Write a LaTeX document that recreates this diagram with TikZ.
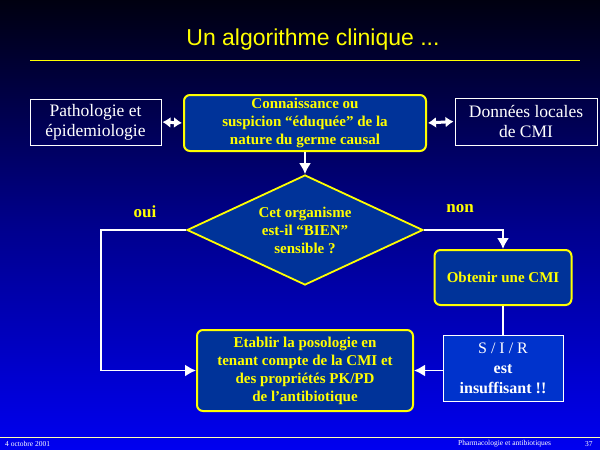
\documentclass[tikz,border=0pt]{standalone}
\usepackage{fontspec}
\setmainfont{Liberation Serif}
\newfontfamily\arialfont{Liberation Sans}
\usetikzlibrary{shapes.geometric,arrows.meta}
\definecolor{boxblue}{RGB}{0,51,153}
\definecolor{sirblue}{RGB}{0,51,204}
\definecolor{bgtop}{RGB}{0,0,16}
\definecolor{bgmid}{RGB}{0,0,140}
\definecolor{bgbot}{RGB}{0,0,240}
\definecolor{ylw}{RGB}{255,255,0}
\definecolor{footline}{RGB}{255,255,170}
\tikzset{
  whitebox/.style={draw=white, line width=1pt, text=white, align=center, inner sep=0pt, font=\fontsize{17.5}{20}\selectfont},
  yelbox/.style={draw=ylw, line width=2pt, fill=boxblue, rounded corners=6pt, text=ylw, align=center, inner sep=0pt, font=\bfseries\fontsize{15}{18}\selectfont},
  conn/.style={draw=white, line width=1.8pt},
  arr/.style={conn, -{Latex[length=11pt,width=12pt]}},
  dbl/.style={draw=white, line width=3pt, {Latex[length=8pt,width=11pt]}-{Latex[length=8pt,width=11pt]}, shorten <=1pt, shorten >=1pt},
  lab/.style={text=ylw, font=\bfseries\fontsize{17}{18}\selectfont},
  foot/.style={text=white, font=\fontsize{7.5}{8}\selectfont, inner sep=0pt}
}
\begin{document}
\begin{tikzpicture}[x=1pt,y=-1pt]
\useasboundingbox (0,0) rectangle (600,450);
\shade[top color=bgtop, bottom color=bgbot, middle color=bgmid] (0,0) rectangle (600,450);
% title
\node[text=ylw, font=\arialfont\fontsize{23}{26}\selectfont] (title) at (313,40) {Un algorithme clinique ...};
\coordinate (tl1) at (30,60);
\coordinate (tl2) at (580,60);
\draw[ylw, line width=1pt] (tl1) -- (tl2);
% boxes
\node[whitebox, minimum width=131pt, minimum height=46pt] (path) at (95.5,122) {Pathologie et\\épidemiologie};
\node[yelbox, minimum width=242pt, minimum height=56pt] (conn) at (305,123) {Connaissance ou\\suspicion “éduquée” de la\\nature du germe causal};
\node[whitebox, minimum width=142pt, minimum height=47pt] (donn) at (526,121.5) {Données locales\\de CMI};
\node[diamond, aspect=2.15, draw=ylw, line width=1.8pt, fill=boxblue, text=ylw, align=center, inner sep=0pt, minimum width=236pt, minimum height=110pt, font=\bfseries\fontsize{15}{18}\selectfont] (dia) at (305,230) {Cet organisme\\est-il “BIEN”\\sensible ?};
\node[yelbox, minimum width=137pt, minimum height=55pt] (obt) at (503,277.5) {Obtenir une CMI};
\node[draw=white, line width=1pt, fill=sirblue, text=white, align=center, inner sep=0pt, minimum width=120pt, minimum height=66pt, font=\bfseries\fontsize{16}{20}\selectfont] (sir) at (503,368) {\mdseries S / I / R\\est\\insuffisant !!};
\node[yelbox, minimum width=216pt, minimum height=81pt] (etab) at (305,370.5) {Etablir la posologie en\\tenant compte de la CMI et\\des propriétés PK/PD\\de l’antibiotique};
% labels
\node[lab] (oui) at (145,212) {oui};
\node[lab] (non) at (460,209) {non};
% connectors
\draw[dbl] (path.east) -- (conn.west);
\draw[dbl] (conn.east) -- (donn.west);
\draw[arr] (conn.south) -- (dia.north);
\coordinate (ouic) at (101,230);
\draw[arr] (dia.west) -- (ouic) |- (etab.west);
\draw[arr] (dia.east) -| (obt.north);
\draw[conn] (obt.south) -- (sir.north);
\draw[arr] (sir.west |- etab.east) -- (etab.east);
% footer
\coordinate (fl1) at (0,437);
\coordinate (fl2) at (600,437);
\draw[footline, line width=0.8pt] (fl1) -- (fl2);
\node[foot, anchor=west] (date) at (5,444) {4 octobre 2001};
\node[foot, anchor=west] (pharm) at (458,444) {Pharmacologie et antibiotiques};
\node[foot, anchor=west] (page) at (585,444) {37};
\end{tikzpicture}
\end{document}
